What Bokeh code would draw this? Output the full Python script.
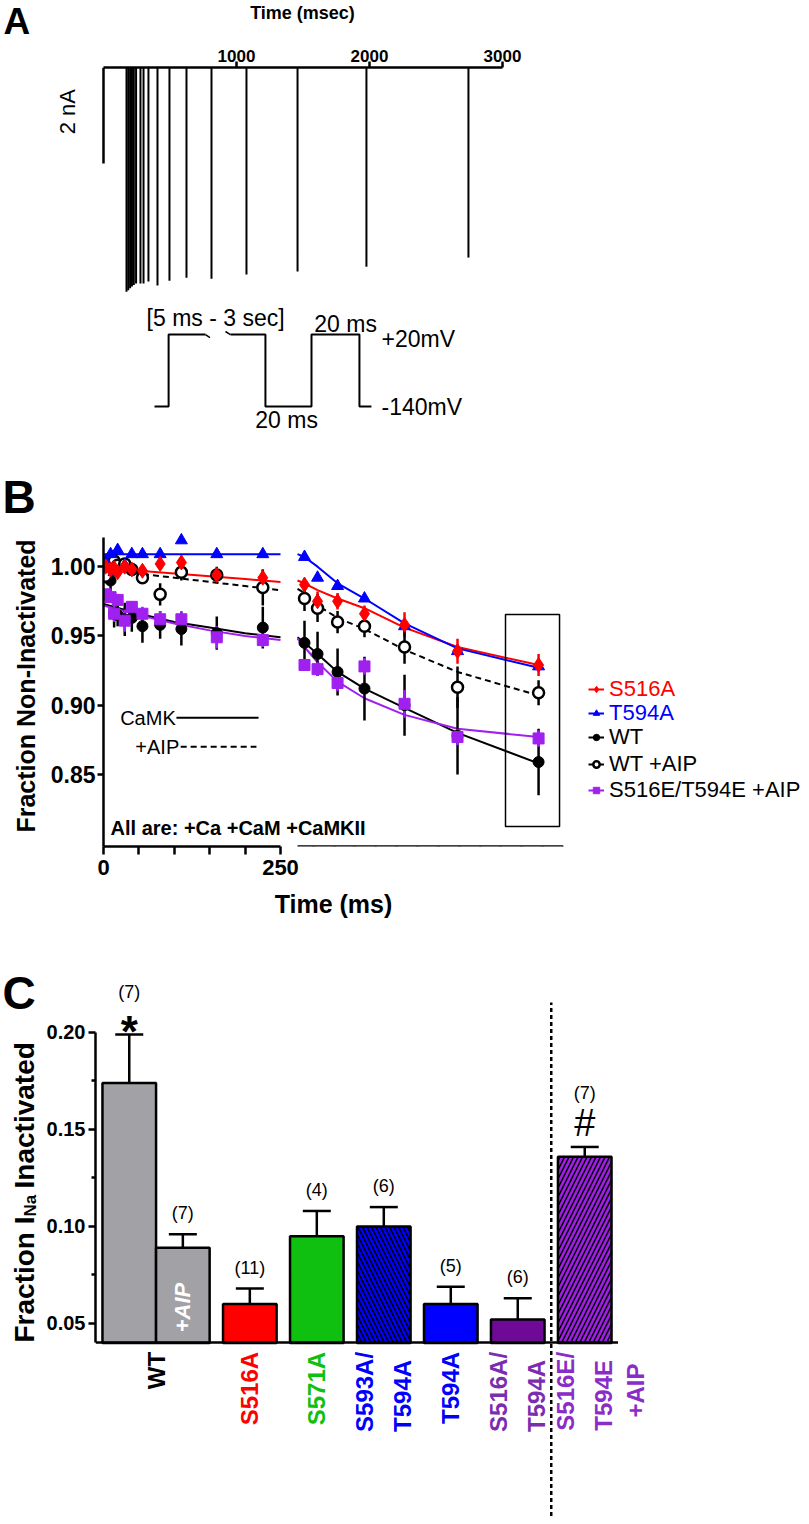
import math
from bokeh.plotting import figure
from bokeh.layouts import row
from bokeh.models import (LinearAxis, FixedTicker, NumeralTickFormatter, Range1d, FactorRange,
                          Label, LabelSet, ColumnDataSource, Legend, LegendItem)
from bokeh.core.properties import value
from bokeh.embed import file_html
from bokeh.resources import INLINE

FONT = "Liberation Sans"
W = 809

# ---------------- Panel A data ----------------
spike_times_ms = [173, 186, 200, 214, 228, 245, 278, 301, 338, 406, 496, 624, 812, 1075, 1459, 1977, 2744]
spike_amp_nA = [4.67, 4.64, 4.60, 4.56, 4.53, 4.50, 4.50, 4.50, 4.46, 4.54, 4.44, 4.38, 4.40, 4.31, 4.25, 4.15, 3.96]
scale_bar_nA = 2.0
time_ticks_ms = [1000, 2000, 3000]

# voltage protocol (schematic time in ms, mV)
proto_pre_t = [0, 6, 6, 21.7]
proto_pre_mv = [-140, -140, 20, 20]
proto_post_t = [32.3, 47.2, 47.2, 66.8, 66.8, 87.2, 87.2, 92.3]
proto_post_mv = [20, 20, -140, -140, 20, 20, -140, -140]

# ---------------- Panel B data ----------------
t_early_ms = [3, 10, 15, 20, 30, 40, 55, 80, 110, 160, 225]
t_late_ms = [317, 442, 634, 892, 1276, 1784, 2561]
fit_t_early = [0, 50, 100, 150, 200, 250]
fit_t_late = [250, 317, 442, 634, 892, 1276, 1784, 2561]

s516a_early = [1.000, 0.998, 0.999, 0.996, 1.000, 0.998, 0.997, 1.002, 1.003, 0.994, 0.992]
s516a_early_err = [0.002, 0.003, 0.002, 0.003, 0.003, 0.003, 0.004, 0.004, 0.005, 0.004, 0.006]
s516a_late = [0.987, 0.975, 0.975, 0.966, 0.958, 0.939, 0.929]
s516a_late_err = [0.005, 0.007, 0.006, 0.006, 0.009, 0.009, 0.008]
s516a_fit_early = [0.9995, 0.997, 0.995, 0.993, 0.991, 0.989]
s516a_fit_late = [0.990, 0.988, 0.983, 0.977, 0.970, 0.956, 0.942, 0.929]

t594a_early = [1.004, 1.009, 0.996, 1.012, 1.001, 1.009, 1.009, 1.009, 1.019, 1.009, 1.009]
t594a_early_err = [0.002] * 11
t594a_late = [1.007, 0.992, 0.986, 0.977, 0.957, 0.939, 0.928]
t594a_late_err = [0.002] * 7
t594a_fit_early = [1.009, 1.009, 1.009, 1.009, 1.009, 1.009]
t594a_fit_late = [1.009, 1.007, 1.000, 0.988, 0.977, 0.959, 0.941, 0.927]

wt_early = [0.994, 0.990, 0.966, 0.965, 0.962, 0.963, 0.957, 0.958, 0.955, 0.952, 0.956]
wt_early_err = [0.006, 0.008, 0.010, 0.008, 0.012, 0.010, 0.012, 0.010, 0.012, 0.012, 0.015]
wt_late = [0.945, 0.937, 0.924, 0.912, 0.900, 0.878, 0.859]
wt_late_err = [0.016, 0.016, 0.017, 0.023, 0.022, 0.028, 0.024]
wt_fit_early = [0.973, 0.966, 0.960, 0.956, 0.952, 0.949]
wt_fit_late = [0.949, 0.945, 0.937, 0.924, 0.912, 0.898, 0.880, 0.858]

wtaip_early = [0.993, 1.002, 1.004, 1.001, 1.002, 0.998, 0.992, 0.980, 0.996, 0.994, 0.985]
wtaip_early_err = [0.004, 0.004, 0.003, 0.004, 0.003, 0.004, 0.004, 0.008, 0.006, 0.006, 0.013]
wtaip_late = [0.977, 0.970, 0.960, 0.957, 0.942, 0.913, 0.909]
wtaip_late_err = [0.009, 0.010, 0.008, 0.008, 0.012, 0.015, 0.009]
wtaip_fit_early = [0.999, 0.995, 0.992, 0.989, 0.986, 0.983]
wtaip_fit_late = [0.984, 0.981, 0.972, 0.963, 0.955, 0.940, 0.924, 0.907]

ee_early = [0.980, 0.978, 0.966, 0.976, 0.961, 0.971, 0.966, 0.962, 0.962, 0.949, 0.947]
ee_early_err = [0.003, 0.004, 0.006, 0.004, 0.008, 0.004, 0.005, 0.006, 0.006, 0.008, 0.005]
ee_late = [0.929, 0.926, 0.916, 0.928, 0.901, 0.877, 0.876]
ee_late_err = [0.004, 0.005, 0.006, 0.006, 0.010, 0.006, 0.006]
ee_fit_early = [0.972, 0.965, 0.959, 0.954, 0.950, 0.947]
ee_fit_late = [0.948, 0.942, 0.931, 0.917, 0.905, 0.893, 0.883, 0.877]

highlight_t = [2244, 2762]
highlight_y = [0.8124, 0.9654]

# ---------------- Panel C data ----------------
bar_groups = ["WT", "WT", "S516A", "S571A", "S593A/T594A", "T594A", "S516A/T594A", "S516E/T594E"]
bar_conds = ["CaMKII", "+AIP", "CaMKII", "CaMKII", "CaMKII", "CaMKII", "CaMKII", "+AIP"]
bar_means = [0.174, 0.089, 0.060, 0.095, 0.100, 0.060, 0.052, 0.136]
bar_sems = [0.025, 0.007, 0.008, 0.013, 0.010, 0.009, 0.011, 0.005]
bar_n = [7, 7, 11, 4, 6, 5, 6, 7]
bar_sig = ["*", "", "", "", "", "", "", "#"]
group_names = ["WT", "S516A", "S571A", "S593A/T594A", "T594A", "S516A/T594A", "S516E/T594E"]
group_labels = ["WT", "S516A", "S571A", "S593A/\nT594A", "T594A", "S516A/\nT594A", "S516E/\nT594E"]

RED = "#FF0000"
BLUE = "#0000FF"
PURPLE = "#A020F0"


def fig(**kw):
    return figure(toolbar_location=None, output_backend="svg", x_axis_type=None, y_axis_type=None,
                  outline_line_color=None, **kw)


def txt(p, x, y, text, size, style="normal", align="left", baseline="middle", angle=0.0, color="black"):
    p.add_layout(Label(x=x, y=y, text=text, text_font=FONT, text_font_size=size, text_font_style=style,
                       text_align=align, text_baseline=baseline, angle=angle, text_color=color))


AXIS_STYLE = dict(axis_line_width=2.5, major_tick_line_width=2.5, minor_tick_line_width=2.5,
                  major_tick_in=0, minor_tick_in=0, major_label_text_font=FONT,
                  major_label_text_font_style="bold", major_label_text_color="black",
                  axis_label_text_font=FONT, axis_label_text_font_style="bold",
                  axis_label_text_color="black", axis_line_color="black",
                  major_tick_line_color="black", minor_tick_line_color="black")

# =============== Header of panel A ===============
hdr = fig(width=W, height=42, x_range=Range1d(0, W), y_range=Range1d(0, 42),
          min_border_left=0, min_border_right=0, min_border_top=0, min_border_bottom=0)
txt(hdr, 3, 21, "A", "37px", "bold", "left", "middle")
txt(hdr, 302, 30, "Time (msec)", "18px", "bold", "center", "middle")

# =============== Panel A : current traces ===============
pa = fig(width=W, height=258, x_range=Range1d(-774.4, 5308.3), y_range=Range1d(-4.854, 0.0),
         min_border_left=0, min_border_right=0, min_border_top=25, min_border_bottom=0)
pa.segment(x0=spike_times_ms, y0=[0] * len(spike_times_ms), x1=spike_times_ms,
           y1=[-a for a in spike_amp_nA], line_color="black", line_width=2)
pa.segment(x0=[0], y0=[0], x1=[0], y1=[-scale_bar_nA], line_color="black", line_width=2.5)
ax_a = LinearAxis(ticker=FixedTicker(ticks=time_ticks_ms), bounds=(0, 3000),
                  formatter=NumeralTickFormatter(format="0"),
                  major_tick_out=6, minor_tick_out=0,
                  major_label_text_font_size="17px", major_label_standoff=0, **AXIS_STYLE)
pa.add_layout(ax_a, "above")
txt(pa, -271, -0.92, "2 nA", "22px", "normal", "center", "middle", math.pi / 2)

# =============== Panel A : voltage protocol (+ letter B) ===============
pp = fig(width=W, height=225, x_range=Range1d(-65.53, 278.7), y_range=Range1d(-404.4, 95.6),
         min_border_left=0, min_border_right=0, min_border_top=0, min_border_bottom=0)
pp.line(proto_pre_t, proto_pre_mv, line_color="black", line_width=2)
pp.line(proto_post_t, proto_post_mv, line_color="black", line_width=2)
pp.segment(x0=[21.7, 30.2], y0=[20, 26.7], x1=[23.6, 32.3], y1=[13.3, 20], line_color="black", line_width=1.5)
txt(pp, 26.0, 57.8, "[5 ms - 3 sec]", "23px", align="center")
txt(pp, 81.3, 44.4, "20 ms", "23px", align="center")
txt(pp, 96.6, 11.1, "+20mV", "23px", align="left")
txt(pp, 96.6, -140, "-140mV", "23px", align="left")
txt(pp, 56.2, -171, "20 ms", "23px", align="center")
txt(pp, -64.7, -340, "B", "46px", "bold", "left", "middle")

# =============== Panel B ===============
pb = fig(width=586, height=441, x_range=Range1d(0, 649.7), y_range=Range1d(0.798, 1.0297),
         min_border_left=103, min_border_right=23, min_border_top=0, min_border_bottom=120)
pb.extra_x_ranges = {"seg2": Range1d(-1610, 2800)}

series = [
    ("S516A", s516a_early, s516a_early_err, s516a_late, s516a_late_err, s516a_fit_early, s516a_fit_late,
     RED, "diamond", 15, RED, "solid", RED),
    ("T594A", t594a_early, t594a_early_err, t594a_late, t594a_late_err, t594a_fit_early, t594a_fit_late,
     BLUE, "triangle", 12, BLUE, "solid", BLUE),
    ("WT", wt_early, wt_early_err, wt_late, wt_late_err, wt_fit_early, wt_fit_late,
     "black", "circle", 11, "black", "solid", "black"),
    ("WT +AIP", wtaip_early, wtaip_early_err, wtaip_late, wtaip_late_err, wtaip_fit_early, wtaip_fit_late,
     "black", "circle", 11, "white", "6 4", "black"),
    ("S516E/T594E +AIP", ee_early, ee_early_err, ee_late, ee_late_err, ee_fit_early, ee_fit_late,
     PURPLE, "square", 11, PURPLE, "solid", "black"),
]

for s in series:
    name, y1, e1, y2, e2, f1, f2, col, mk, sz, fill, dash, tcol = s
    pb.line(fit_t_early, f1, line_color=col, line_width=2, line_dash=dash)
    pb.line(fit_t_late, f2, line_color=col, line_width=2, line_dash=dash, x_range_name="seg2")
for s in series:
    name, y1, e1, y2, e2, f1, f2, col, mk, sz, fill, dash, tcol = s
    pb.segment(x0=t_early_ms, x1=t_early_ms, y0=[a - b for a, b in zip(y1, e1)],
               y1=[a + b for a, b in zip(y1, e1)], line_color=col, line_width=2.5)
    pb.segment(x0=t_late_ms, x1=t_late_ms, y0=[a - b for a, b in zip(y2, e2)],
               y1=[a + b for a, b in zip(y2, e2)], line_color=col, line_width=2.5, x_range_name="seg2")
for idx in [2, 4, 3, 1, 0]:
    name, y1, e1, y2, e2, f1, f2, col, mk, sz, fill, dash, tcol = series[idx]
    lw = 2.5 if name == "WT +AIP" else 1
    pb.scatter(t_early_ms, y1, marker=mk, size=sz, fill_color=fill, line_color=col, line_width=lw)
    pb.scatter(t_late_ms, y2, marker=mk, size=sz, fill_color=fill, line_color=col, line_width=lw,
               x_range_name="seg2")

pb.quad(left=[highlight_t[0]], right=[highlight_t[1]], bottom=[highlight_y[0]], top=[highlight_y[1]],
        fill_color=None, line_color="black", line_width=1.5, x_range_name="seg2")

yax_b = LinearAxis(ticker=FixedTicker(ticks=[0.85, 0.90, 0.95, 1.00]), bounds=(0.798, 1.021),
                   formatter=NumeralTickFormatter(format="0.00"),
                   axis_label="Fraction Non-Inactivated", axis_label_standoff=8,
                   axis_label_text_font_size="25px", major_tick_out=6, minor_tick_out=0,
                   major_label_text_font_size="23px", major_label_standoff=2, **AXIS_STYLE)
pb.add_layout(yax_b, "left")
xax_b1 = LinearAxis(ticker=FixedTicker(ticks=[0, 250], minor_ticks=[50, 100, 150, 200]),
                    bounds=(0, 250), formatter=NumeralTickFormatter(format="0"),
                    axis_label="Time (ms)", axis_label_standoff=12, axis_label_text_font_size="25px",
                    major_tick_out=8, minor_tick_out=8,
                    major_label_text_font_size="22px", major_label_standoff=5, **AXIS_STYLE)
pb.add_layout(xax_b1, "below")
xax_b2 = LinearAxis(x_range_name="seg2", fixed_location=0.798,
                    ticker=FixedTicker(ticks=[1000, 2000, 2800],
                                       minor_ticks=[400, 600, 800, 1200, 1400, 1600, 1800, 2200, 2400, 2600]),
                    bounds=(250, 2800), formatter=NumeralTickFormatter(format="0"),
                    major_label_overrides={2000: "", 2800: "3000"},
                    major_tick_out=8, minor_tick_out=5,
                    major_label_text_font_size="22px", major_label_standoff=5, **AXIS_STYLE)
pb.add_layout(xax_b2, "below")

txt(pb, 102, 0.891, "CaMK", "20px", align="right")
txt(pb, 107, 0.870, "+AIP", "20px", align="right")
pb.line([103, 219], [0.891, 0.891], line_color="black", line_width=2)
pb.line([109, 216], [0.870, 0.870], line_color="black", line_width=2, line_dash="6 4")
txt(pb, 10, 0.8117, "All are: +Ca +CaM +CaMKII", "20px", "bold", "left", "middle")

# legend (own figure to the right of panel B; proxies hold the same data, out of view)
lgf = fig(width=223, height=441, x_range=Range1d(-1, 0), y_range=Range1d(-1, 0),
          min_border_left=0, min_border_right=0, min_border_top=0, min_border_bottom=120)
legend_y = [144, 120, 96, 69, 43]
for i, s in enumerate(series):
    name, y1, e1, y2, e2, f1, f2, col, mk, sz, fill, dash, tcol = s
    lw = 2.5 if name == "WT +AIP" else 1
    lr = lgf.line(fit_t_early, f1, line_color=col, line_width=2, line_dash=dash)
    mr = lgf.scatter(t_early_ms, y1, marker=mk, size=sz, fill_color=fill, line_color=col, line_width=lw)
    lg = Legend(items=[LegendItem(label=name, renderers=[lr, mr])],
                location=(2, legend_y[i]), margin=0, padding=0, spacing=0,
                glyph_width=16, glyph_height=20, label_standoff=5, label_height=20,
                label_text_font=FONT, label_text_font_size="22px", label_text_color=tcol,
                border_line_color=None, background_fill_alpha=0)
    lgf.add_layout(lg)

# =============== Panel C ===============
YC = (-0.05052, 0.23402)
factors = list(zip(bar_groups, bar_conds))
pc = fig(width=578, height=558,
         x_range=FactorRange(factors=factors, factor_padding=0.0, group_padding=0.25,
                             range_padding=0.13, range_padding_units="absolute"),
         y_range=Range1d(*YC),
         min_border_left=55, min_border_right=0, min_border_top=0, min_border_bottom=6)

tops = [m + e for m, e in zip(bar_means, bar_sems)]
bar_colors = ["#A2A2A6", "#A2A2A6", "#FF0000", "#10C010", "#0000FF", "#0000FF", "#6E0A96", "#A01EE6"]
bar_hatch = [" ", " ", " ", " ", "\\", " ", " ", "/"]
csrc = ColumnDataSource(dict(x=factors, top=bar_means, etop=tops, color=bar_colors, hatch=bar_hatch,
                             n=["(%d)" % n for n in bar_n],
                             noff=[21 + (21 if s == "*" else 33 if s == "#" else 0) for s in bar_sig]))
pc.segment(x0="x", y0="top", x1="x", y1="etop", source=csrc, line_color="black", line_width=2.5)
pc.scatter(x="x", y="etop", source=csrc, marker="dash", size=28, line_color="black", line_width=2.5)
pc.vbar(x="x", top="top", bottom=0.04, width=1.0, source=csrc, fill_color="color",
        line_color="black", line_width=2.5, hatch_pattern="hatch", hatch_color="black",
        hatch_weight=1.5, hatch_scale=9)
pc.text(x=[("WT", "+AIP")], y=[0.0582], text=["+AIP"], angle=math.pi / 2, text_color="white",
        text_font=value(FONT), text_font_style="bold italic", text_font_size="22px",
        text_align="center", text_baseline="middle")
div_x = ("S516E/T594E", "+AIP", -0.625)
pc.segment(x0=[div_x], y0=[-0.06], x1=[div_x], y1=[0.2155], line_color="black",
           line_width=2.5, line_dash="4 3")

pc.add_layout(LabelSet(x="x", y="etop", text="n", source=csrc, y_offset="noff", text_color="black",
                       text_font=value(FONT), text_font_size="18px", text_align="center",
                       text_baseline="middle"))
star_src = ColumnDataSource(dict(x=[f for f, s in zip(factors, bar_sig) if s == "*"],
                                 y=[t for t, s in zip(tops, bar_sig) if s == "*"]))
hash_src = ColumnDataSource(dict(x=[f for f, s in zip(factors, bar_sig) if s == "#"],
                                 y=[t for t, s in zip(tops, bar_sig) if s == "#"]))
pc.add_layout(LabelSet(x="x", y="y", text=value("*"), source=star_src, y_offset=3, text_color="black",
                       text_font=value(FONT), text_font_style="bold", text_font_size="44px",
                       text_align="center", text_baseline="middle"))
pc.add_layout(LabelSet(x="x", y="y", text=value("#"), source=hash_src, y_offset=24, text_color="black",
                       text_font=value(FONT), text_font_size="38px",
                       text_align="center", text_baseline="middle"))

lab_colors = ["black", "#FF0000", "#10C010", "#0000FF", "#0000FF", "#7B2DAF", "#8B2CC8"]
gsrc = ColumnDataSource(dict(x=group_names, y=[0.04] * len(group_names), text=group_labels,
                             color=lab_colors))
pc.add_layout(LabelSet(x="x", y="y", text="text", source=gsrc, angle=math.pi / 2,
                       y_offset=-9, text_color="color", text_font=value(FONT),
                       text_font_style="bold", text_font_size="24px", text_align="right",
                       text_baseline="middle", text_line_height=1.4))

yax_c = LinearAxis(ticker=FixedTicker(ticks=[0.05, 0.10, 0.15, 0.20], minor_ticks=[0.075, 0.125, 0.175]),
                   bounds=(0.04, 0.20), formatter=NumeralTickFormatter(format="0.00"),
                   major_tick_out=7, minor_tick_out=4,
                   major_label_text_font_size="20px", major_label_standoff=3, **AXIS_STYLE)
pc.add_layout(yax_c, "left")
xax_c = LinearAxis(fixed_location=0.04, ticker=FixedTicker(ticks=[]), major_tick_line_color=None,
                   minor_tick_line_color=None, axis_line_width=2.5, axis_line_color="black",
                   major_label_standoff=0)
pc.add_layout(xax_c, "below")

# left strip of panel C: letter + y-axis title with subscript
cl = fig(width=40, height=558, x_range=Range1d(0, 40), y_range=Range1d(*YC),
         min_border_left=0, min_border_right=0, min_border_top=0, min_border_bottom=6)
txt(cl, 2, 0.2206, "C", "46px", "bold", "left", "middle")
txt(cl, 24, 0.0402, "Fraction I", "28px", "bold", "left", "alphabetic", math.pi / 2)
txt(cl, 30, 0.1052, "Na", "17px", "bold", "left", "alphabetic", math.pi / 2)
txt(cl, 24, 0.1196, "Inactivated", "28px", "bold", "left", "alphabetic", math.pi / 2)

# right strip of panel C: last line of the last category label
cr = fig(width=191, height=558, x_range=Range1d(0, 191), y_range=Range1d(*YC),
         min_border_left=0, min_border_right=0, min_border_top=0, min_border_bottom=6)
txt(cr, 17, 0.01546, "+AIP", "24px", "bold", "center", "middle", math.pi / 2, "#8B2CC8")

roots = [hdr, pa, pp, row(pb, lgf, spacing=0), row(cl, pc, cr, spacing=0)]
open("out.html", "w").write(file_html(roots, INLINE))
